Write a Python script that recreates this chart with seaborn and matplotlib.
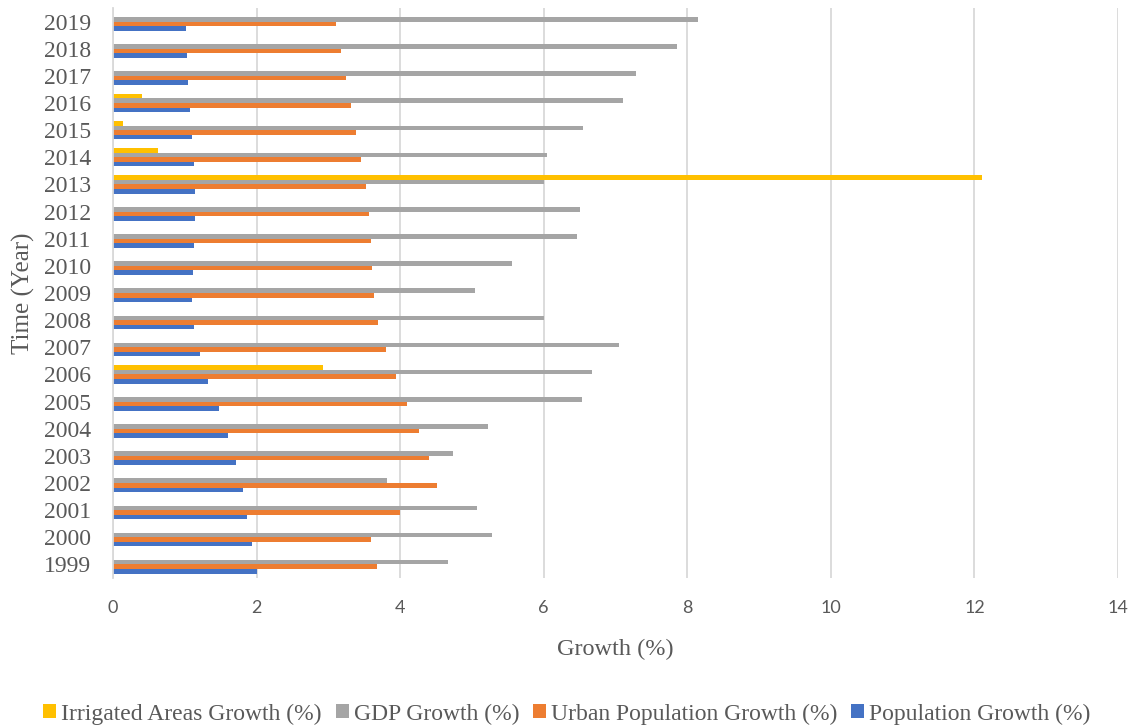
import matplotlib
matplotlib.use("Agg")
import matplotlib.pyplot as plt
import seaborn as sns
import pandas as pd
from matplotlib.patches import Patch

years = list(range(1999, 2020))
irrigated = [0, 0, 0, 0, 0, 0, 0, 2.92, 0, 0, 0, 0, 0, 0, 12.11, 0.63, 0.14, 0.40, 0, 0, 0]
gdp = [4.66, 5.28, 5.07, 3.82, 4.73, 5.23, 6.53, 6.67, 7.05, 6.01, 5.04, 5.56, 6.46, 6.51, 6.01, 6.05, 6.55, 7.11, 7.28, 7.86, 8.15]
urban = [3.68, 3.60, 4.00, 4.51, 4.40, 4.26, 4.10, 3.94, 3.80, 3.69, 3.63, 3.61, 3.60, 3.57, 3.52, 3.46, 3.38, 3.31, 3.24, 3.17, 3.11]
population = [2.01, 1.94, 1.87, 1.81, 1.72, 1.60, 1.47, 1.33, 1.21, 1.13, 1.10, 1.11, 1.13, 1.14, 1.14, 1.13, 1.10, 1.07, 1.05, 1.03, 1.02]

series_names = ["Irrigated Areas Growth (%)", "GDP Growth (%)",
                "Urban Population Growth (%)", "Population Growth (%)"]
series_values = [irrigated, gdp, urban, population]
colors = ["#FFC000", "#A5A5A5", "#ED7D31", "#4472C4"]

rows = []
for name, vals in zip(series_names, series_values):
    for y, v in zip(years, vals):
        rows.append({"Year": str(y), "Series": name, "Value": v})
df = pd.DataFrame(rows)

sns.set_theme(style="white")
plt.rcParams["font.family"] = ["Liberation Serif", "DejaVu Serif"]

fig = plt.figure(figsize=(11.34, 7.27), dpi=100)
ax = fig.add_axes([113 / 1134, 1 - 578 / 727, (1118 - 113) / 1134, (578 - 8) / 727])

order = [str(y) for y in reversed(years)]
sns.barplot(data=df, x="Value", y="Year", hue="Series", order=order,
            hue_order=series_names, palette=dict(zip(series_names, colors)),
            orient="h", width=0.67, saturation=1, linewidth=0, legend=False, ax=ax)

ax.set_xlim(0, 14)
ax.set_xticks(range(0, 15, 2))
ax.set_ylim(len(order) - 0.5, -0.5)
ax.grid(axis="x", color="#D9D9D9", linewidth=1.3)
ax.grid(axis="y", visible=False)
ax.set_axisbelow(True)
for s in ["top", "right", "bottom"]:
    ax.spines[s].set_visible(False)
ax.spines["left"].set_color("#D9D9D9")
ax.spines["left"].set_linewidth(1.3)

ax.tick_params(axis="x", length=0, pad=16, labelsize=13, labelcolor="#595959")
for lbl in ax.get_xticklabels():
    lbl.set_family(["Lato", "DejaVu Sans"])
ax.tick_params(axis="y", length=0, pad=16, labelsize=17, labelcolor="#595959")

ax.set_xlabel("Growth (%)", fontsize=17.5, color="#595959", labelpad=16)
ax.set_ylabel("Time (Year)", fontsize=18, color="#595959", labelpad=6)

handles = [Patch(facecolor=c, edgecolor="none") for c in colors]
fig.legend(handles, series_names, loc="center", bbox_to_anchor=(0.5, 1 - 714 / 727),
           ncol=4, frameon=False, fontsize=17, labelcolor="#595959",
           handlelength=0.55, handleheight=0.55, handletextpad=0.2, columnspacing=0.6)

fig.savefig("out.png", dpi=100, facecolor="white")
